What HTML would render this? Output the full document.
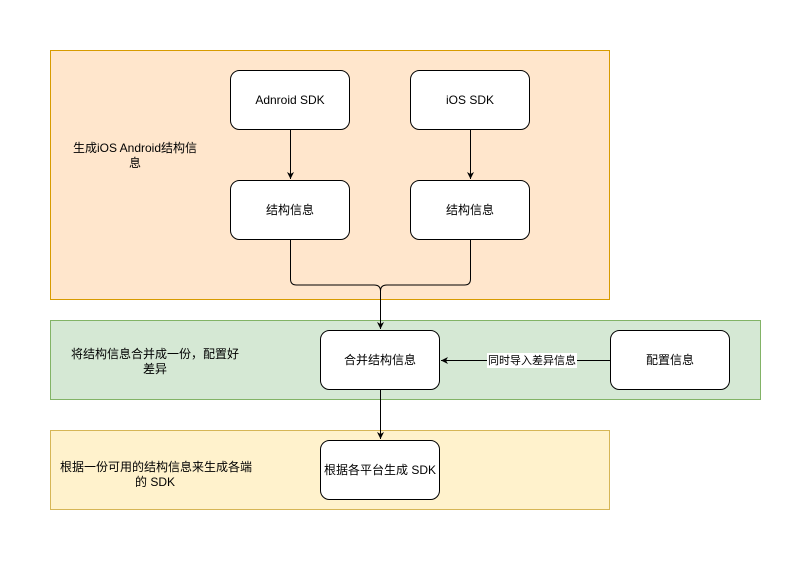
<!DOCTYPE html>
<html><head><meta charset="utf-8"><style>
html,body{margin:0;padding:0;background:#fff;width:811px;height:561px;overflow:hidden}
svg text{font-family:"Liberation Sans","Noto Sans CJK SC",sans-serif;font-size:12px;fill:#000}
</style></head><body>
<svg width="811" height="561" viewBox="0 0 811 561" xmlns="http://www.w3.org/2000/svg">
<defs><marker id="a" markerWidth="8" markerHeight="8" refX="7" refY="4" orient="auto" markerUnits="userSpaceOnUse"><path d="M0,0.5 L7,4 L0,7.5 L2,4 Z" fill="#000"/></marker></defs>
<rect x="50.5" y="50.5" width="559" height="249" fill="#ffe6cc" stroke="#d79b00"/>
<rect x="50.5" y="320.5" width="710" height="79" fill="#d5e8d4" stroke="#82b366"/>
<rect x="50.5" y="430.5" width="559" height="79" fill="#fff2cc" stroke="#d6b656"/>
<g fill="#fff" stroke="#000">
<rect x="230.5" y="70.5" width="119" height="59" rx="9"/>
<rect x="410.5" y="70.5" width="119" height="59" rx="9"/>
<rect x="230.5" y="180.5" width="119" height="59" rx="9"/>
<rect x="410.5" y="180.5" width="119" height="59" rx="9"/>
<rect x="320.5" y="330.5" width="119" height="59" rx="9"/>
<rect x="610.5" y="330.5" width="119" height="59" rx="9"/>
<rect x="320.5" y="440.5" width="119" height="59" rx="9"/>
</g>
<g stroke="#000" fill="none">
<line x1="290.5" y1="130" x2="290.5" y2="179" marker-end="url(#a)"/>
<line x1="470.5" y1="130" x2="470.5" y2="179" marker-end="url(#a)"/>
<path d="M290.5,240 V279 Q290.5,285 296.5,285 H374 Q380.5,285 380.5,291 V329" marker-end="url(#a)"/>
<path d="M470.5,240 V279 Q470.5,285 464.5,285 H387 Q380.5,285 380.5,291"/>
<line x1="380.5" y1="390" x2="380.5" y2="439" marker-end="url(#a)"/>
<line x1="610" y1="360.5" x2="441" y2="360.5" marker-end="url(#a)"/>
</g>
<rect x="487" y="353" width="90" height="15" fill="#fff"/>
<g text-anchor="middle">
<text x="290" y="104">Adnroid SDK</text>
<text x="470" y="104">iOS SDK</text>
<text x="290" y="214">结构信息</text>
<text x="470" y="214">结构信息</text>
<text x="380" y="364">合并结构信息</text>
<text x="670" y="364">配置信息</text>
<text x="380" y="474">根据各平台生成 SDK</text>
<text x="532" y="364" style="font-size:11px">同时导入差异信息</text>
<text x="135" y="152">生成iOS Android结构信</text>
<text x="135" y="167">息</text>
<text x="155" y="358">将结构信息合并成一份，配置好</text>
<text x="155" y="373">差异</text>
<text x="156" y="471">根据一份可用的结构信息来生成各端</text>
<text x="155" y="486">的 SDK</text>
</g>
</svg>
</body></html>
